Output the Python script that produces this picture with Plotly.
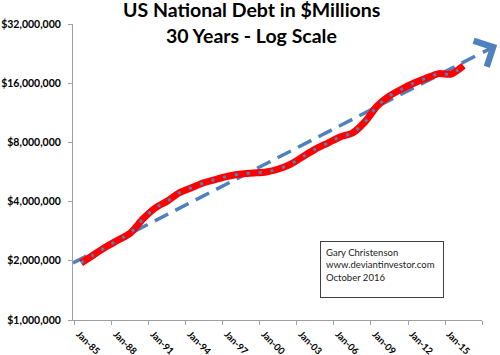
import plotly.graph_objects as go
import math

# ---- data ----
years = list(range(1985, 2017))
debt_millions = [1.95e6, 2.14e6, 2.35e6, 2.55e6, 2.77e6, 3.26e6, 3.71e6, 4.03e6,
                 4.45e6, 4.72e6, 5.00e6, 5.21e6, 5.40e6, 5.53e6, 5.59e6, 5.66e6,
                 5.86e6, 6.21e6, 6.78e6, 7.40e6, 7.94e6, 8.53e6, 8.93e6, 10.16e6,
                 12.25e6, 13.78e6, 14.95e6, 16.03e6, 17.0e6, 17.9e6, 17.8e6, 19.6e6]

# trend line (straight on log scale)
trend_x = [1984.84, 2017.6]
trend_y = [1.95e6, 22.2e6]
arrow_tail = (2017.95, 22.76e6)
arrow_head = (2019.23, 25.0e6)

x_tick_years = [1985, 1988, 1991, 1994, 1997, 2000, 2003, 2006, 2009, 2012, 2015, 2018]
x_tick_text = ["Jan-85", "Jan-88", "Jan-91", "Jan-94", "Jan-97", "Jan-00", "Jan-03",
               "Jan-06", "Jan-09", "Jan-12", "Jan-15", ""]
y_tick_vals = [1e6, 2e6, 4e6, 8e6, 16e6, 32e6]
y_tick_text = ["$1,000,000", "$2,000,000", "$4,000,000", "$8,000,000",
               "$16,000,000", "$32,000,000"]

title_lines = ["US National Debt in $Millions", "30 Years - Log Scale"]
note_text = "Gary Christenson<br>www.deviantinvestor.com<br>October 2016"

BLUE = "#4F81BD"
RED = "#FF0000"
FONT = "Lato"

# plot-area geometry (pixels)
L, R, T, B = 73, 18, 24, 35
PW, PH = 500 - L - R, 355 - T - B

def px_x(px):
    return (px - L) / PW

def px_y(py):
    return (355 - B - py) / PH

# annual points are plotted mid-year (Excel "between tick marks")
x_pos = [y + 0.5 for y in years]

fig = go.Figure()
fig.add_trace(go.Scatter(x=trend_x, y=trend_y, mode="lines",
                         line=dict(color=BLUE, width=3.5, dash="15px,8px"),
                         hoverinfo="skip", showlegend=False))
fig.add_trace(go.Scatter(x=x_pos, y=debt_millions, mode="lines",
                         line=dict(color=RED, width=7, shape="spline", smoothing=0.7),
                         showlegend=False))
fig.add_trace(go.Scatter(x=x_pos, y=debt_millions, mode="lines",
                         line=dict(color=BLUE, width=3, shape="spline", smoothing=0.7,
                                   dash="3px,9px"),
                         showlegend=False))

fig.add_annotation(x=arrow_head[0], y=math.log10(arrow_head[1]), xref="x", yref="y",
                   ax=arrow_tail[0], ay=math.log10(arrow_tail[1]), axref="x", ayref="y",
                   showarrow=True, arrowhead=4, arrowsize=1.6, arrowwidth=3.5,
                   arrowcolor=BLUE, text="")

fig.add_annotation(text=note_text, xref="paper", yref="paper",
                   x=px_x(320), y=px_y(241), xanchor="left", yanchor="top",
                   showarrow=False, align="left", valign="top", width=112, height=45,
                   borderpad=5, bordercolor="#404040", borderwidth=1,
                   font=dict(family=FONT, size=9.5, color="#222"))

for line, cy in zip(title_lines, [9, 35]):
    fig.add_annotation(text="<b>" + line + "</b>", xref="paper", yref="paper",
                       x=px_x(251.5), y=px_y(cy), xanchor="center", yanchor="middle",
                       showarrow=False, font=dict(family=FONT, size=19.5, color="#000"))

fig.update_layout(
    width=500, height=355,
    margin=dict(l=L, r=R, t=T, b=B, autoexpand=False),
    paper_bgcolor="white", plot_bgcolor="white",
    xaxis=dict(range=[1984.84, 2018.0], tickmode="array", tickvals=x_tick_years,
               ticktext=x_tick_text, tickangle=45, showgrid=False, zeroline=False,
               showline=True, linecolor="#A0A0A0", linewidth=1, automargin=False,
               ticks="outside", ticklen=4, tickcolor="#A0A0A0", ticklabelshift=4,
               tickfont=dict(family=FONT, size=9.5, color="#000", weight="bold")),
    yaxis=dict(type="log", range=[6, math.log10(32e6)], tickmode="array",
               tickvals=y_tick_vals, ticktext=y_tick_text, showgrid=False,
               zeroline=False, showline=True, linecolor="#A0A0A0", linewidth=1,
               automargin=False, ticks="outside", ticklen=4, tickcolor="#A0A0A0",
               ticklabelstandoff=5,
               tickfont=dict(family=FONT, size=10.5, color="#000", weight="bold")),
)

fig.write_html("out.html", post_script="document.body.style.margin='0';",
               config={"displayModeBar": False})
